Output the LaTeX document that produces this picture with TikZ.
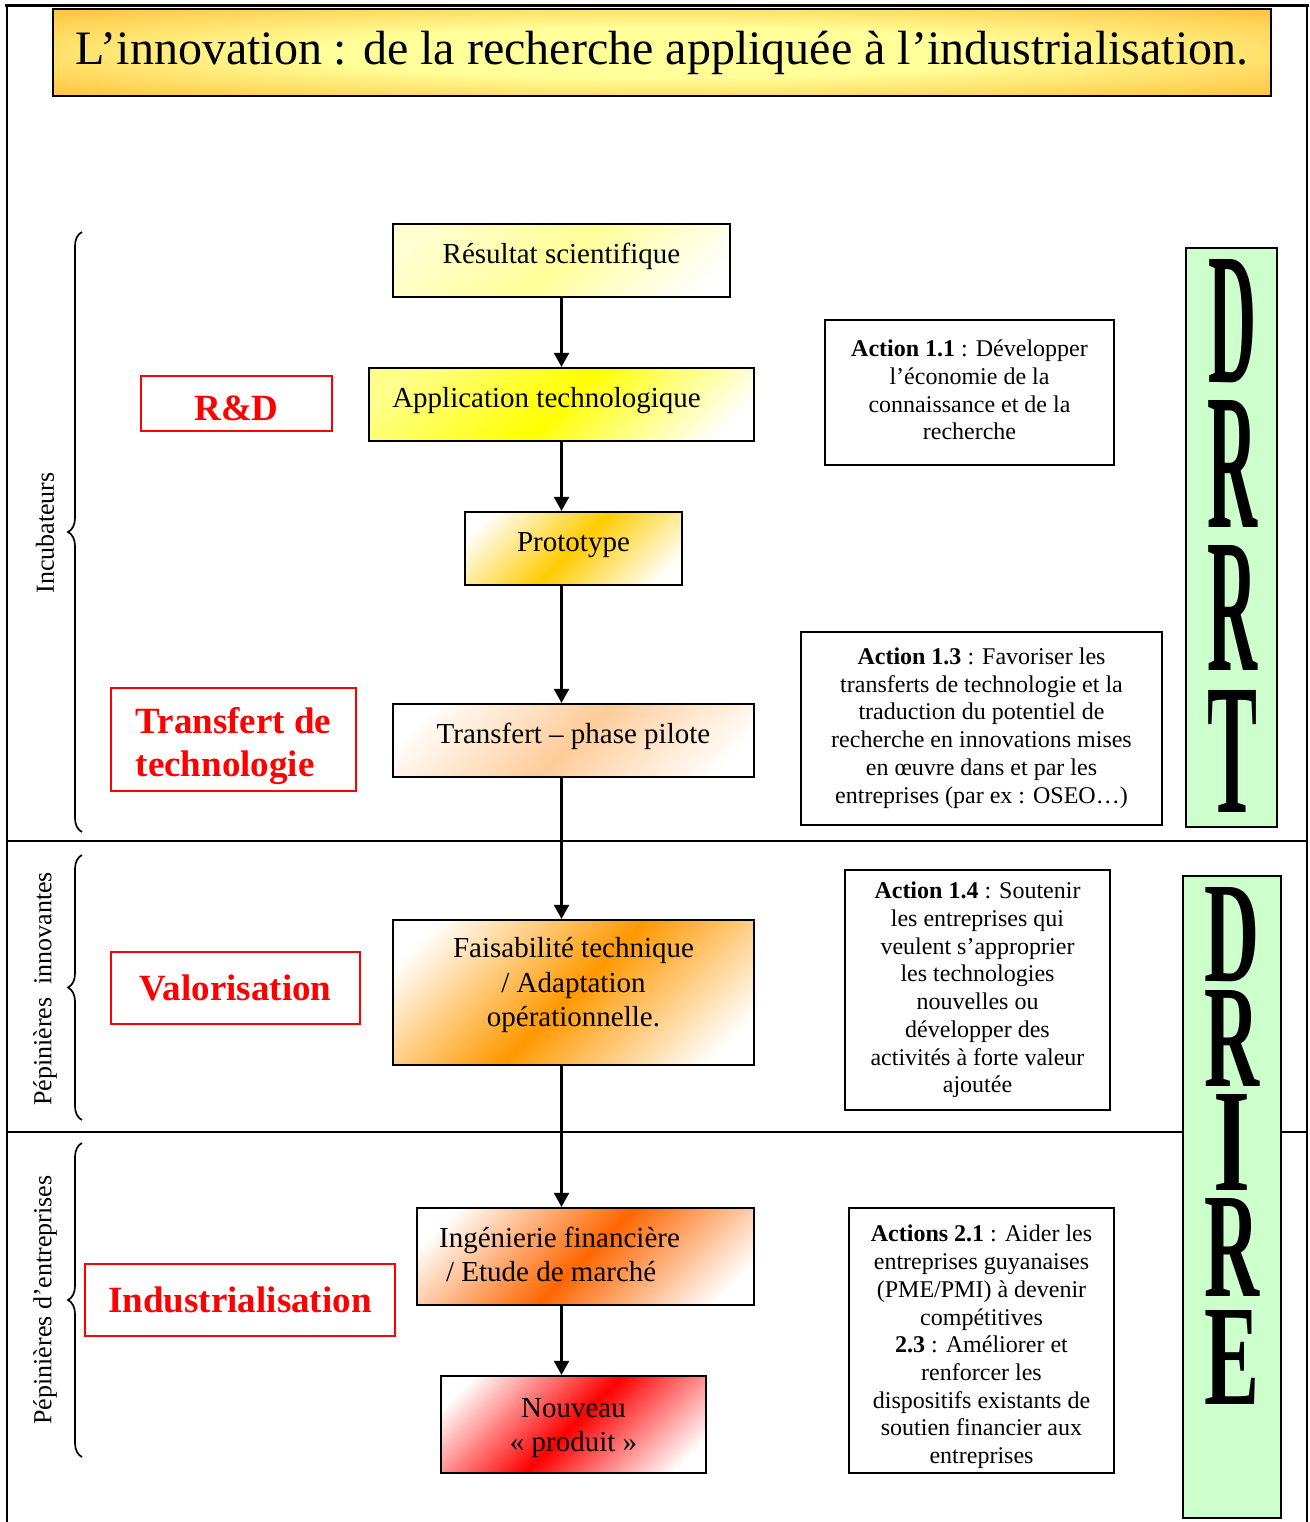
\documentclass[tikz,border=0pt]{standalone}
\usepackage{fontspec}
\usepackage{graphicx}
\setmainfont{Liberation Serif}
\usetikzlibrary{arrows.meta,decorations.pathreplacing}
\definecolor{cRes}{HTML}{FFFF99}
\definecolor{cApp}{HTML}{FFFF00}
\definecolor{cPro}{HTML}{FFCC00}
\definecolor{cTra}{HTML}{FFCC99}
\definecolor{cFai}{HTML}{FF9900}
\definecolor{cIng}{HTML}{FF6600}
\definecolor{cNou}{HTML}{FF0000}
\definecolor{cGreen}{HTML}{CCFFCC}
\definecolor{cTitY}{HTML}{FFFF99}
\definecolor{cTitO}{HTML}{FF9900}
\colorlet{cGa}{white}
\colorlet{cGb}{orange}
\pgfdeclareradialshading{titleshade}{\pgfpoint{0bp}{0bp}}{color(0bp)=(cTitY); color(14bp)=(cTitY); color(50bp)=(cTitO); color(70bp)=(cTitO)}
\pgfdeclareverticalshading[cGa,cGb]{diagshade}{100bp}{color(0bp)=(white); color(21bp)=(white); color(50bp)=(cGb); color(79bp)=(cGa); color(100bp)=(cGa)}
\newcommand{\liftby}[2]{\raisebox{#1}[\height][\depth]{#2}}
\begin{document}
\begin{tikzpicture}[x=1pt,y=-1pt,
  flow/.style={draw=black, line width=2.2pt, inner sep=0pt, align=center, font=\fontsize{29}{34.5}\selectfont},
  oneline/.style={text height=20pt, text depth=15pt},
  grad/.style={shade, shading=diagshade, shading angle=45, /utils/exec={\colorlet{cGb}{#1}\colorlet{cGa}{white}}},
  gradt/.style={shade, shading=diagshade, shading angle=45, /utils/exec={\colorlet{cGb}{#1}\colorlet{cGa}{#1!45!white}}},
  lab/.style={draw=red, line width=1.8pt, inner sep=0pt, text=red, align=left, font=\bfseries\fontsize{37}{43}\selectfont},
  act/.style={draw=black, line width=2.2pt, inner sep=0pt, fill=white},
  acttxt/.style={inner sep=0pt, align=center, font=\fontsize{24}{27.7}\selectfont},
  drbox/.style={draw=black, line width=2.2pt, fill=cGreen, inner sep=0pt},
  bigl/.style={inner sep=0pt, align=center, font=\bfseries\fontsize{10}{10}\selectfont},
  arr/.style={line width=2.2pt, -{Triangle[length=14pt,width=15pt]}},
  brc/.style={line width=1.7pt, decorate, decoration={brace, amplitude=14pt}},
  side/.style={rotate=90, inner sep=0pt, font=\fontsize{26}{30}\selectfont},
  rulel/.style={line width=2pt}
]
\useasboundingbox (0,0) rectangle (1309,1522);
\fill[white] (0,0) rectangle (1309,1522);

% frame and dividers
\draw[rulel] (7,1522) -- (7,6) -- (1307,6) -- (1307,1522);
\draw[line width=3.5pt] (5,5.5) -- (1309,5.5);
\draw[rulel] (7,841) -- (1307,841);
\draw[rulel] (7,1132) -- (1307,1132);

% title
\node[draw=black, line width=2.2pt, shade, shading=titleshade, minimum width=1218pt, minimum height=87pt, inner sep=0pt,
      font=\fontsize{48}{56}\selectfont] (title) at (662,52.5) {L’innovation : de la recherche appliquée à l’industrialisation.};

% side labels and braces
\node[side] (incub) at (45,533) {Incubateurs};
\node[side] (pepin) at (45,989) {Pépinières\ \ innovantes};
\node[side] (pepent) at (45,1300) {Pépinières d’entreprises};
\draw[brc] (82,832) -- (82,232);
\draw[brc] (82,1120) -- (82,855);
\draw[brc] (82,1457) -- (82,1143);

% red labels
\node[lab, minimum width=191pt, minimum height=55pt] (rd) at (236.5,403.5) {\liftby{-5pt}{R\&D}};
\node[lab, minimum width=245pt, minimum height=103pt] (tt) at (233.5,739.5) {\liftby{-7pt}{\begin{tabular}{@{}l@{}}Transfert de\\technologie\end{tabular}}};
\node[lab, minimum width=249pt, minimum height=72pt] (val) at (235.5,988) {Valorisation};
\node[lab, minimum width=310pt, minimum height=72pt] (ind) at (240,1300) {Industrialisation};

% flow boxes
\node[flow, oneline, gradt=cRes, minimum width=337pt, minimum height=73pt] (res) at (561.5,260.5) {Résultat scientifique};
\node[flow, oneline, gradt=cApp, minimum width=385pt, minimum height=73pt] (app) at (561.5,404.5) {Application technologique\hspace*{30pt}};
\node[flow, oneline, grad=cPro, minimum width=217pt, minimum height=73pt] (proto) at (573.5,548.5) {Prototype};
\node[flow, oneline, grad=cTra, minimum width=361pt, minimum height=73pt] (trans) at (573.5,740.5) {Transfert – phase pilote};
\node[flow, grad=cFai, minimum width=361pt, minimum height=145pt] (fais) at (573.5,992.5) {\liftby{7pt}{\begin{tabular}{@{}c@{}}Faisabilité technique\\/ Adaptation\\opérationnelle.\end{tabular}}};
\node[flow, grad=cIng, minimum width=337pt, minimum height=97pt] (ing) at (585.5,1256.5) {\liftby{-1pt}{\begin{tabular}{@{}l@{}}Ingénierie financière\hspace*{52pt}\\\hspace*{7pt}/ Etude de marché\end{tabular}}};
\node[flow, grad=cNou, minimum width=265pt, minimum height=97pt] (nouv) at (573.5,1424.5) {\liftby{-3pt}{\begin{tabular}{@{}c@{}}Nouveau\\«~produit~»\end{tabular}}};

% arrows
\draw[arr] (res.south) -- (res.south |- app.north);
\draw[arr] (res.south |- app.south) -- (res.south |- proto.north);
\draw[arr] (res.south |- proto.south) -- (res.south |- trans.north);
\draw[arr] (res.south |- trans.south) -- (res.south |- fais.north);
\draw[arr] (res.south |- fais.south) -- (res.south |- ing.north);
\draw[arr] (res.south |- ing.south) -- (res.south |- nouv.north);

% action boxes
\node[act, minimum width=289pt, minimum height=145pt] (a11) at (969.5,392.5) {};
\node[acttxt] (a11t) at (969.5,390) {\textbf{Action 1.1} : Développer\\l’économie de la\\connaissance et de la\\recherche};
\node[act, minimum width=361pt, minimum height=193pt] (a13) at (981.5,728.5) {};
\node[acttxt] (a13t) at (981.5,728) {\textbf{Action 1.3} : Favoriser les\\transferts de technologie et la\\traduction du potentiel de\\recherche en innovations mises\\en œuvre dans et par les\\entreprises (par ex : OSEO…)};
\node[act, minimum width=265pt, minimum height=240pt] (a14) at (977.5,990) {};
\node[acttxt] (a14t) at (977.5,990) {\textbf{Action 1.4} : Soutenir\\les entreprises qui\\veulent s’approprier\\les technologies\\nouvelles ou\\développer des\\activités à forte valeur\\ajoutée};
\node[act, minimum width=265pt, minimum height=265pt] (a21) at (981.5,1340.5) {};
\begin{scope}
\clip (850,1209) rectangle (1113,1472);
\node[acttxt] (a21t) at (981.5,1347) {\textbf{Actions 2.1} : Aider les\\entreprises guyanaises\\(PME/PMI) à devenir\\compétitives\\\textbf{2.3} : Améliorer et\\renforcer les\\dispositifs existants de\\soutien financier aux\\entreprises};
\end{scope}

% DRRT
\node[drbox, minimum width=91pt, minimum height=579pt] (drrt) at (1231.5,537.5) {};
\node[bigl] (drrtl) at (1232,536) {\resizebox{48pt}{123pt}{D}\\[16pt]\resizebox{50pt}{127pt}{R}\\[17pt]\resizebox{50pt}{125pt}{R}\\[19pt]\resizebox{50pt}{122pt}{T}};

% DRIRE
\node[drbox, minimum width=98pt, minimum height=642pt] (drire) at (1232,1197) {};
\node[bigl] (drirel) at (1232,1146) {\resizebox{55pt}{94pt}{D}\\[7pt]\resizebox{55pt}{96pt}{R}\\[7pt]\resizebox{37pt}{96pt}{I}\\[7pt]\resizebox{55pt}{98pt}{R}\\[13pt]\resizebox{55pt}{94pt}{E}};
\end{tikzpicture}
\end{document}
